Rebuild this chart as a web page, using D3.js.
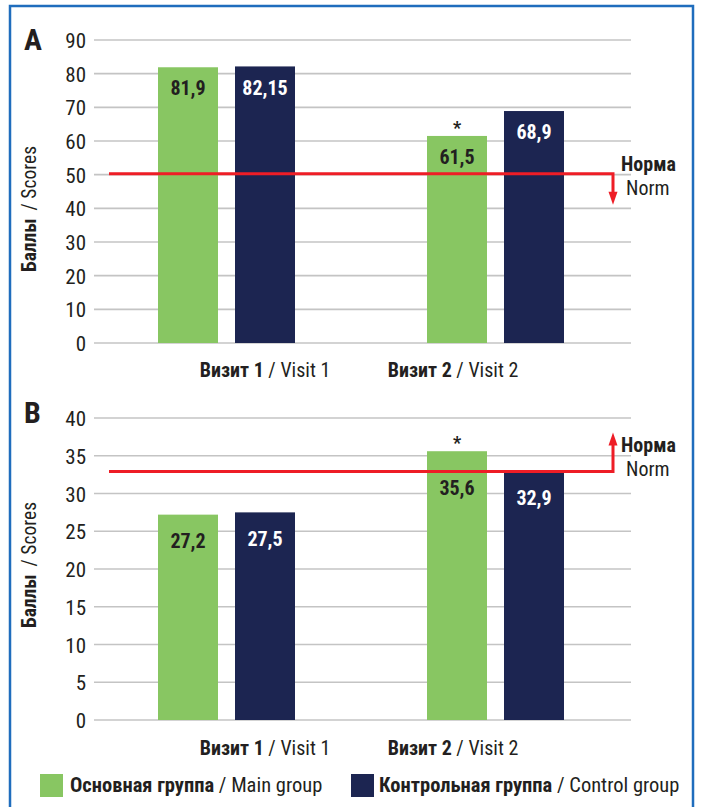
<!DOCTYPE html>
<html><head><meta charset="utf-8">
<script src="https://cdn.jsdelivr.net/npm/d3@7"></script>
<style>
html,body{margin:0;padding:0;background:#fff;}
svg text{font-family:"Liberation Sans Narrow","Roboto Condensed","Arial Narrow",sans-serif;}
</style></head>
<body>
<svg id="chart" width="702" height="807"></svg>
<script>
// ---- data ----
const categories = ["Визит 1", "Визит 2"];
const categoriesEn = ["Visit 1", "Visit 2"];
const series = ["Основная группа", "Контрольная группа"];
const seriesEn = ["Main group", "Control group"];
const valuesA_main = [81.9, 61.5];
const valuesA_control = [82.15, 68.9];
const valuesB_main = [27.2, 35.6];
const valuesB_control = [27.5, 32.9];
const significantA = [false, true]; // asterisk over main group
const significantB = [false, true];
const normA = 50.3;
const normB = 32.9;
const ticksA = [0,10,20,30,40,50,60,70,80,90];
const ticksB = [0,5,10,15,20,25,30,35,40];
const colors = ["#88c662", "#1c2551"];
const labelColors = ["#231f20", "#ffffff"];

const fmt = v => String(v).replace(".", ",");

const svg = d3.select("#chart");

// frame
svg.append("rect").attr("x", 10).attr("y", 6).attr("width", 683).attr("height", 820)
  .attr("fill", "none").attr("stroke", "#1f6dbd").attr("stroke-width", 2.5);

const gridX0 = 94, gridX1 = 631;
const x0 = d3.scaleBand().domain(categories).range([92, 630]);
const x1 = d3.scaleBand().domain(series).range([-68.5, 68.5]).paddingInner(2 - 137/77);

function drawPanel(cfg) {
  const y = d3.scaleLinear().domain([0, cfg.max]).range([cfg.bottom, cfg.top]);
  const g = svg.append("g");

  // gridlines
  g.selectAll("line.grid").data(cfg.ticks).join("line")
    .attr("x1", gridX0).attr("x2", gridX1)
    .attr("y1", d => y(d)).attr("y2", d => y(d))
    .attr("stroke", "#c4c4c4").attr("stroke-width", 1.6);

  // y axis ticks via d3 axis
  const ax = d3.axisLeft(y).tickValues(cfg.ticks).tickSize(0).tickPadding(0).tickFormat(d3.format("d"));
  const axg = g.append("g").attr("transform", `translate(86,0)`).call(ax);
  axg.select(".domain").remove();
  axg.selectAll("text").attr("font-size", 21).attr("fill", "#231f20")
    .attr("font-family", '"Liberation Sans Narrow","Roboto Condensed",sans-serif').attr("dy", "0.36em");

  // bars
  const rows = categories.map((c, i) => ({cat: c, vals: [cfg.main[i], cfg.control[i]], sig: cfg.sig[i]}));
  rows.forEach(r => {
    r.vals.forEach((v, j) => {
      const cx = x0(r.cat) + x0.bandwidth()/2 + x1(series[j]);
      g.append("rect").attr("x", cx).attr("y", y(v)).attr("width", x1.bandwidth())
        .attr("height", y(0) - y(v)).attr("fill", colors[j]);
    });
  });

  // norm line with arrow
  const ny = y(cfg.norm);
  const ax2 = 613;
  const dir = cfg.arrowDir; // 1 down, -1 up
  const tipY = ny + dir * cfg.arrowLen;
  g.append("path")
    .attr("d", `M109,${ny} H${ax2} V${tipY - dir*11}`)
    .attr("fill", "none").attr("stroke", "#ee1d26").attr("stroke-width", 3);
  g.append("path")
    .attr("d", `M${ax2-4.5},${tipY - dir*13} L${ax2+4.5},${tipY - dir*13} L${ax2},${tipY} Z`)
    .attr("fill", "#ee1d26");
  const nt = g.append("text").attr("x", 621).attr("font-size", 20).attr("fill", "#231f20");
  nt.append("tspan").attr("x", 621).attr("y", cfg.normTextY).attr("font-weight", "bold").text("Норма");
  nt.append("tspan").attr("x", 626).attr("y", cfg.normTextY + 24).text("Norm");

  // value labels
  rows.forEach(r => {
    r.vals.forEach((v, j) => {
      const cx = x0(r.cat) + x0.bandwidth()/2 + x1(series[j]) + x1.bandwidth()/2;
      let ly = y(v) + cfg.labelOff;
      if (Math.abs(ly - ny) < 10) ly = ny + 16;
      g.append("text").attr("x", cx).attr("y", ly).attr("dy", "0.36em")
        .attr("text-anchor", "middle").attr("font-size", 20).attr("font-weight", "bold")
        .attr("fill", labelColors[j]).text(fmt(v));
    });
    if (r.sig) {
      const cx = x0(r.cat) + x0.bandwidth()/2 + x1(series[0]) + x1.bandwidth()/2;
      g.append("text").attr("x", cx).attr("y", y(r.vals[0]) - 12).attr("dy", "0.55em")
        .attr("text-anchor", "middle").attr("font-size", 18).attr("font-weight", "bold")
        .attr("fill", "#231f20").text("*");
    }
  });

  // category labels
  const xl = d3.scalePoint().domain(categories)
    .range([x0(categories[0]) + x0.bandwidth()/2 + 38.5, x0(categories[1]) + x0.bandwidth()/2 - 42.5]);
  categories.forEach((c, i) => {
    const t = g.append("text").attr("x", xl(c)).attr("y", cfg.catY).attr("text-anchor", "middle")
      .attr("font-size", 20).attr("fill", "#231f20");
    t.append("tspan").attr("font-weight", "bold").text(c);
    t.append("tspan").text(" / " + categoriesEn[i]);
  });

  // panel letter
  g.append("text").attr("x", 24).attr("y", cfg.letterY).attr("font-size", 30)
    .attr("font-weight", "bold").attr("fill", "#231f20").text(cfg.letter);

  // y title
  const yt = g.append("text").attr("transform", `translate(36,${cfg.titleY}) rotate(-90)`)
    .attr("text-anchor", "middle").attr("font-size", 19.5).attr("fill", "#231f20");
  yt.append("tspan").attr("font-weight", "bold").text("Баллы");
  yt.append("tspan").attr("dx", 8).text("/ Scores");
}

drawPanel({letter: "A", max: 90, top: 40, bottom: 343, ticks: ticksA, main: valuesA_main,
  control: valuesA_control, sig: significantA, norm: normA, arrowDir: 1, arrowLen: 31,
  normTextY: 171, labelOff: 21, catY: 377, letterY: 50, titleY: 209});
drawPanel({letter: "B", max: 40, top: 418, bottom: 720, ticks: ticksB, main: valuesB_main,
  control: valuesB_control, sig: significantB, norm: normB, arrowDir: -1, arrowLen: 39,
  normTextY: 452, labelOff: 26, catY: 755, letterY: 423, titleY: 565});

// legend
const leg = svg.append("g");
[[40, 70], [351, 379]].forEach(([sx, tx], i) => {
  leg.append("rect").attr("x", sx).attr("y", 774).attr("width", 23).attr("height", 23).attr("fill", colors[i]);
  const t = leg.append("text").attr("x", tx).attr("y", 792).attr("font-size", 20.5).attr("fill", "#231f20");
  t.append("tspan").attr("font-weight", "bold").text(series[i]);
  t.append("tspan").text(" / " + seriesEn[i]);
});
</script>
</body></html>
